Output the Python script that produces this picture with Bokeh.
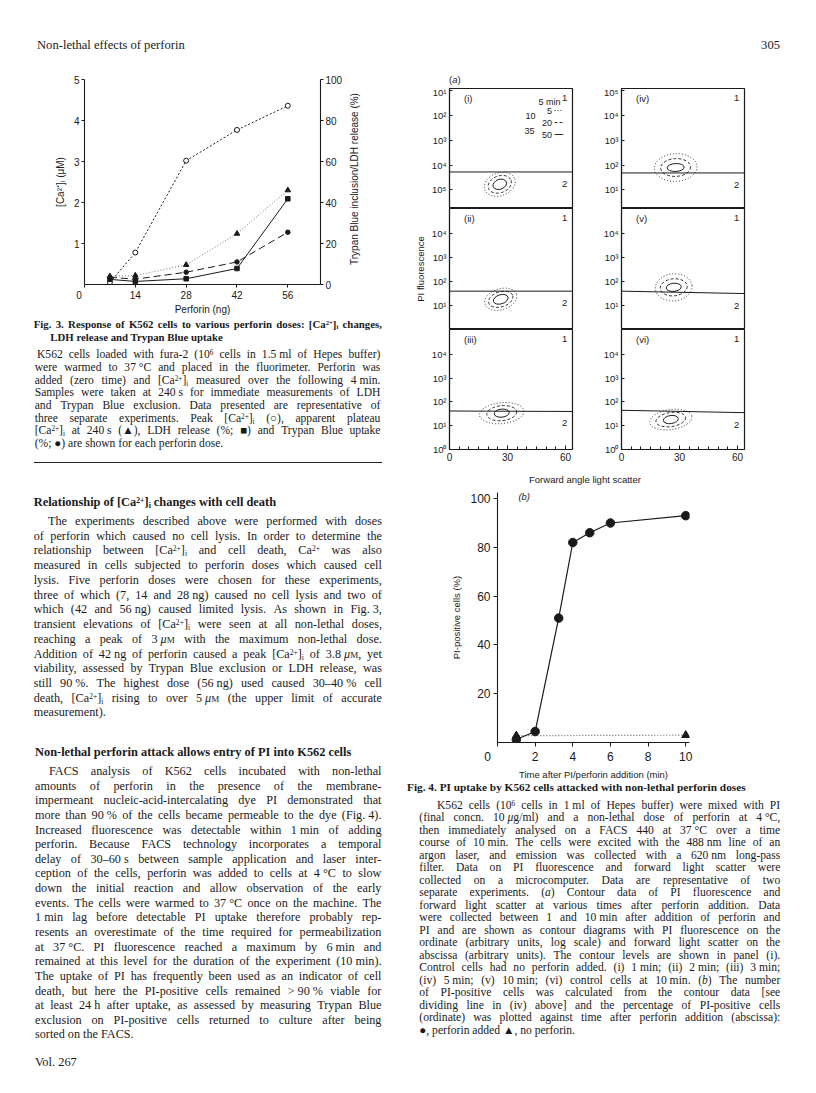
import math
from bokeh.plotting import figure
from bokeh.models import Range1d, LinearAxis, FixedTicker, Label, Div
from bokeh.layouts import row, column
from bokeh.embed import file_html
from bokeh.resources import INLINE

# ---------------- data: Fig. 3 ----------------
dose_ng = [7, 14, 28, 42, 56]
peak_ca_uM = [0.05, 0.78, 3.02, 3.77, 4.36]
plateau_ca_uM = [0.20, 0.22, 0.48, 1.24, 2.30]
ldh_release_pct = [2.5, 1.5, 2.8, 7.8, 41.8]
trypan_uptake_pct = [3.5, 2.6, 6.0, 11.0, 25.5]
fig3_x_ticks = [0, 14, 28, 42, 56]
fig3_left_ticks = [1, 2, 3, 4, 5]
fig3_right_ticks = [0, 20, 40, 60, 80, 100]

# ---------------- data: Fig. 4(a) contour panels ----------------
panel_ids = ["(i)", "(ii)", "(iii)", "(iv)", "(v)", "(vi)"]
contour_cx = [26.0, 26.5, 27.0, 28.0, 27.0, 25.5]
contour_cy = [1.22, 1.26, 1.53, 1.90, 1.76, 1.26]
contour_angle = [0.35, 0.30, 0.10, 0.05, 0.10, 0.15]
level5_w = [16.5, 17.0, 23.0, 22.0, 19.0, 22.0]
level5_h = [0.92, 0.88, 0.88, 1.12, 1.13, 0.84]
level20_w = [12.4, 13.0, 15.5, 15.5, 14.0, 15.5]
level20_h = [0.68, 0.63, 0.63, 0.72, 0.71, 0.59]
level50_w = [7.2, 7.8, 7.8, 8.8, 7.8, 7.8]
level50_h = [0.40, 0.38, 0.34, 0.32, 0.34, 0.34]
divide_left = [1.72, 1.60, 1.62, 1.68, 1.60, 1.65]
divide_right = [1.72, 1.60, 1.60, 1.68, 1.50, 1.55]
fsc_major_ticks = [0, 30, 60]
fsc_minor_ticks = [5, 10, 15, 20, 25, 35, 40, 45, 50, 55]
panel_tick_labels = [
    {5: "10¹", 4: "10²", 3: "10³", 2: "10⁴", 1: "10⁵"},
    {4: "10⁴", 3: "10³", 2: "10²", 1: "10¹"},
    {4: "10⁴", 3: "10³", 2: "10²", 1: "10¹", 0: "10⁰"},
    {5: "10⁵", 4: "10⁴", 3: "10³", 2: "10²", 1: "10¹"},
    {4: "10⁴", 3: "10³", 2: "10²", 1: "10¹"},
    {4: "10⁴", 3: "10³", 2: "10²", 1: "10¹", 0: "10⁰"},
]
legend_levels = ["5", "20", "50"]
legend_extra = ["10", "35"]

# ---------------- data: Fig. 4(b) ----------------
time_perforin_min = [1, 2, 3.25, 4, 4.9, 6, 10]
pi_pos_perforin_pct = [1.2, 4.5, 51, 82, 86, 90, 93]
time_control_min = [1, 10]
pi_pos_control_pct = [2.8, 3.0]
fig4b_x_ticks = [0, 2, 4, 6, 8, 10]
fig4b_y_ticks = [20, 40, 60, 80, 100]

SANS = "Liberation Sans"
SERIF_CSS = "'Liberation Serif',serif"
SANS_CSS = "'Liberation Sans',sans-serif"
INK = "#1a1a1a"
DASHES = ("1 2", "3 2", "solid")


def style_axis(ax, tick_px, label_px, t_in=0, t_out=3):
    ax.axis_line_color = INK
    ax.axis_line_width = 1.1
    ax.major_tick_line_color = INK
    ax.major_tick_in = t_in
    ax.major_tick_out = t_out
    ax.minor_tick_line_color = None
    ax.major_label_text_font = SANS
    ax.major_label_text_font_size = f"{tick_px}px"
    ax.major_label_text_color = INK
    ax.major_label_standoff = 2
    ax.axis_label_text_font = SANS
    ax.axis_label_text_font_size = f"{label_px}px"
    ax.axis_label_text_font_style = "normal"
    ax.axis_label_text_color = INK


# ================= Fig. 3 =================
F3_W = 345
f3 = figure(width=F3_W, height=255, x_range=Range1d(0, 65), y_range=Range1d(0, 5),
            output_backend="svg", toolbar_location=None,
            min_border_left=84, min_border_right=F3_W - 84 - 238, min_border_top=17,
            min_border_bottom=30, outline_line_color=None)
f3.grid.visible = False
f3.extra_y_ranges = {"pct": Range1d(0, 100)}
f3.xaxis.ticker = FixedTicker(ticks=fig3_x_ticks)
f3.xaxis.major_label_overrides = {0: "0\u2007\u2007"}
f3.xaxis.axis_label = "Perforin (ng)"
style_axis(f3.xaxis[0], 10, 10)
f3.xaxis.axis_label_standoff = 0
f3.yaxis.ticker = FixedTicker(ticks=fig3_left_ticks)
f3.yaxis.axis_label = "[Ca²⁺]ᵢ (μM)"
style_axis(f3.yaxis[0], 10, 10)
f3.yaxis.axis_label_standoff = 5
ax_r = LinearAxis(y_range_name="pct", ticker=FixedTicker(ticks=fig3_right_ticks))
style_axis(ax_r, 10, 10)
f3.add_layout(ax_r, "right")

f3.line(dose_ng, peak_ca_uM, line_color=INK, line_width=1, line_dash="2 2")
f3.scatter(dose_ng, peak_ca_uM, marker="circle", size=5, fill_color="white", line_color=INK)
f3.line(dose_ng, plateau_ca_uM, line_color="#777777", line_width=1, line_dash="1 2")
f3.scatter(dose_ng, plateau_ca_uM, marker="triangle", size=5.5, fill_color=INK, line_color=INK)
f3.line(dose_ng, ldh_release_pct, y_range_name="pct", line_color=INK, line_width=1)
f3.scatter(dose_ng, ldh_release_pct, y_range_name="pct", marker="square", size=4.5,
           fill_color=INK, line_color=INK)
f3.line(dose_ng, trypan_uptake_pct, y_range_name="pct", line_color=INK, line_width=1,
        line_dash="7 4")
f3.scatter(dose_ng, trypan_uptake_pct, y_range_name="pct", marker="circle", size=4.5,
           fill_color=INK, line_color=INK)

# ================= Fig. 4(a) panels =================
X_MAX = 63.6
panels = []
for i, pid in enumerate(panel_ids):
    col = 0 if i < 3 else 1
    r = i % 3
    ml, mr = (47, 10) if col == 0 else (39, 56)
    if r == 0:
        mt, mb, fh, yr = 2, 0, 120, (0.24, 5.1)
    elif r == 1:
        mt, mb, fh, yr = 0, 0, 121, (0.0, 5.05)
    else:
        mt, mb, fh, yr = 0, 22, 120, (0.0, 5.05)
    p = figure(width=ml + 123 + mr, height=mt + fh + mb,
               x_range=Range1d(0, X_MAX), y_range=Range1d(*yr),
               output_backend="svg", toolbar_location=None,
               min_border_left=ml, min_border_right=mr, min_border_top=mt, min_border_bottom=mb,
               outline_line_color=INK, outline_line_width=1.2)
    p.grid.visible = False
    ppd = fh / (yr[1] - yr[0])  # px per decade
    ticks = sorted(panel_tick_labels[i].keys())
    p.yaxis.ticker = FixedTicker(ticks=ticks)
    p.yaxis.major_label_overrides = panel_tick_labels[i]
    style_axis(p.yaxis[0], 9.5, 9.5, t_in=3, t_out=0)
    p.yaxis.major_label_standoff = 3
    if i == 1:
        p.yaxis.axis_label = "PI fluorescence"
        p.yaxis.axis_label_standoff = 3
    if r == 2:
        p.xaxis.ticker = FixedTicker(ticks=fsc_major_ticks, minor_ticks=fsc_minor_ticks)
        style_axis(p.xaxis[0], 10, 10, t_in=4, t_out=0)
        p.xaxis.minor_tick_line_color = INK
        p.xaxis.minor_tick_in = 3
        p.xaxis.minor_tick_out = 0
        p.xaxis.major_label_standoff = 3
    else:
        p.xaxis.visible = False

    # contours: 5 (dotted), 20 (dashed), 50 (solid)
    for ws, hs, dash, lw in ((level5_w, level5_h, DASHES[0], 0.9),
                             (level20_w, level20_h, DASHES[1], 0.9),
                             (level50_w, level50_h, DASHES[2], 1.0)):
        p.ellipse(x=[contour_cx[i]], y=[contour_cy[i]], width=[ws[i]], height=[hs[i]],
                  angle=[contour_angle[i]], fill_color=None, line_color=INK,
                  line_width=lw, line_dash=dash)
    # dividing line
    p.line([0, X_MAX], [divide_left[i], divide_right[i]], line_color=INK, line_width=1)

    lab = dict(text_font=SANS, text_font_size="9.5px", text_color=INK, text_baseline="middle")
    ytop = yr[1] - 9.5 / ppd
    p.add_layout(Label(x=7.5, y=ytop, text=pid, text_align="left", **lab))
    p.add_layout(Label(x=59.5, y=ytop, text="1", text_align="center", **lab))
    p.add_layout(Label(x=59.5, y=divide_right[i] - 12 / ppd, text="2", text_align="center", **lab))

    if i == 0:
        leg = dict(text_font=SANS, text_font_size="9px", text_color=INK, text_baseline="middle")
        p.add_layout(Label(x=51.7, y=yr[1] - 13 / ppd, text="5 min", text_align="center", **leg))
        p.add_layout(Label(x=41.9, y=yr[1] - 27 / ppd, text=legend_extra[0], text_align="center", **leg))
        p.add_layout(Label(x=41.4, y=yr[1] - 42 / ppd, text=legend_extra[1], text_align="center", **leg))
        for k, (lv, dash) in enumerate(zip(legend_levels, DASHES)):
            yl = yr[1] - (22 + 12 * k) / ppd
            p.add_layout(Label(x=53.0, y=yl, text=lv, text_align="right", **leg))
            p.line([54.3, 58.8], [yl, yl], line_color=INK, line_width=0.9, line_dash=dash)
    panels.append(p)

# ================= Fig. 4(b) =================
f4b = figure(width=398, height=293, x_range=Range1d(0, 10.2), y_range=Range1d(0, 102.5),
             output_backend="svg", toolbar_location=None,
             min_border_left=95, min_border_right=111, min_border_top=3, min_border_bottom=37,
             outline_line_color=None)
f4b.grid.visible = False
f4b.xaxis.ticker = FixedTicker(ticks=fig4b_x_ticks)
f4b.xaxis.major_label_overrides = {0: "0\u2007\u2007\u2007"}
f4b.xaxis.axis_label = "Time after PI/perforin addition (min)"
style_axis(f4b.xaxis[0], 12, 9.5, t_in=0, t_out=4)
f4b.xaxis.major_label_standoff = 3
f4b.xaxis.axis_label_standoff = 2
f4b.yaxis.ticker = FixedTicker(ticks=fig4b_y_ticks)
f4b.yaxis.axis_label = "PI-positive cells (%)"
style_axis(f4b.yaxis[0], 12, 9.5, t_in=0, t_out=4)
f4b.yaxis.major_label_standoff = 3
f4b.yaxis.axis_label_standoff = 5
f4b.line(time_control_min, pi_pos_control_pct, line_color="#666666", line_width=1.2, line_dash="1 2")
f4b.scatter(time_control_min, pi_pos_control_pct, marker="triangle", size=8,
            fill_color=INK, line_color=INK)
f4b.line(time_perforin_min, pi_pos_perforin_pct, line_color=INK, line_width=1.2)
f4b.scatter(time_perforin_min, pi_pos_perforin_pct, marker="circle", size=8.5,
            fill_color=INK, line_color=INK)
f4b.add_layout(Label(x=1.42, y=100.9, text="(b)", text_font=SANS, text_font_size="9.5px",
                     text_font_style="italic", text_align="center", text_baseline="middle",
                     text_color=INK))

# ================= text (HTML) =================
SUP = '<span style="font-size:0.62em;vertical-align:0.42em;line-height:0">{}</span>'
SUB = '<span style="font-size:0.62em;vertical-align:-0.22em;line-height:0">{}</span>'
TOK = [
    ("{CA}", "[Ca" + SUP.format("2+") + "]" + SUB.format("i")),
    ("{CA2}", "Ca" + SUP.format("2+")),
    ("{uM}", '<i>μ</i><span style="font-variant:small-caps">m</span>'),
    ("{ug}", "<i>μ</i>g"),
    ("{a}", "(<i>a</i>)"),
    ("{b}", "(<i>b</i>)"),
    ("{e6}", "10" + SUP.format("6")),
    ("~", "&nbsp;"),
]


def fmt(s):
    for k, v in TOK:
        s = s.replace(k, v)
    return s


def html_line(text, x, yc, origin, size, lh, width=None, bold=False, family=SERIF_CSS):
    ox, oy = origin
    st = (f"position:absolute;left:{x - ox:.1f}px;top:{yc - oy - lh / 2:.1f}px;"
          f"font-size:{size}px;line-height:{lh}px;white-space:nowrap;font-family:{family};")
    if bold:
        st += "font-weight:bold;"
    if width is not None:
        inner = "".join(f"<span>{fmt(w)}</span>" for w in text.split(" "))
        st += f"width:{width:.1f}px;display:flex;justify-content:space-between;"
    else:
        inner = fmt(text)
    return f'<div style="{st}">{inner}</div>'


def paragraph(lines, x0, x_first, right, y0, step, origin, size, lh):
    out = []
    for k, t in enumerate(lines):
        x = x_first if k == 0 else x0
        last = k == len(lines) - 1
        out.append(html_line(t, x, y0 + k * step, origin, size, lh,
                             width=None if last else right - x))
    return out


def box(parts, w, h):
    return (f'<div style="position:relative;width:{w}px;height:{h}px;color:{INK};'
            f'font-family:{SERIF_CSS}">' + "".join(parts) + "</div>")


fig3_caption = [
    "K562 cells loaded with fura-2 ({e6} cells in 1.5~ml of Hepes buffer)",
    "were warmed to 37~°C and placed in the fluorimeter. Perforin was",
    "added (zero time) and {CA} measured over the following 4~min.",
    "Samples were taken at 240~s for immediate measurements of LDH",
    "and Trypan Blue exclusion. Data presented are representative of",
    "three separate experiments. Peak {CA} (○), apparent plateau",
    "{CA} at 240~s (▲), LDH release (%; ■) and Trypan Blue uptake",
    "(%; ●) are shown for each perforin dose.",
]
para1 = [
    "The experiments described above were performed with doses",
    "of perforin which caused no cell lysis. In order to determine the",
    "relationship between {CA} and cell death, {CA2} was also",
    "measured in cells subjected to perforin doses which caused cell",
    "lysis. Five perforin doses were chosen for these experiments,",
    "three of which (7, 14 and 28~ng) caused no cell lysis and two of",
    "which (42 and 56~ng) caused limited lysis. As shown in Fig.~3,",
    "transient elevations of {CA} were seen at all non-lethal doses,",
    "reaching a peak of 3~{uM} with the maximum non-lethal dose.",
    "Addition of 42~ng of perforin caused a peak {CA} of 3.8~{uM}, yet",
    "viability, assessed by Trypan Blue exclusion or LDH release, was",
    "still 90~%. The highest dose (56~ng) used caused 30–40~% cell",
    "death, {CA} rising to over 5~{uM} (the upper limit of accurate",
    "measurement).",
]
para2 = [
    "FACS analysis of K562 cells incubated with non-lethal",
    "amounts of perforin in the presence of the membrane-",
    "impermeant nucleic-acid-intercalating dye PI demonstrated that",
    "more than 90~% of the cells became permeable to the dye (Fig.~4).",
    "Increased fluorescence was detectable within 1~min of adding",
    "perforin. Because FACS technology incorporates a temporal",
    "delay of 30–60~s between sample application and laser inter-",
    "ception of the cells, perforin was added to cells at 4~°C to slow",
    "down the initial reaction and allow observation of the early",
    "events. The cells were warmed to 37~°C once on the machine. The",
    "1~min lag before detectable PI uptake therefore probably rep-",
    "resents an overestimate of the time required for permeabilization",
    "at 37~°C. PI fluorescence reached a maximum by 6~min and",
    "remained at this level for the duration of the experiment (10~min).",
    "The uptake of PI has frequently been used as an indicator of cell",
    "death, but here the PI-positive cells remained >~90~% viable for",
    "at least 24~h after uptake, as assessed by measuring Trypan Blue",
    "exclusion on PI-positive cells returned to culture after being",
    "sorted on the FACS.",
]
fig4_caption = [
    "K562 cells ({e6} cells in 1~ml of Hepes buffer) were mixed with PI",
    "(final concn. 10~{ug}/ml) and a non-lethal dose of perforin at 4~°C,",
    "then immediately analysed on a FACS 440 at 37~°C over a time",
    "course of 10~min. The cells were excited with the 488~nm line of an",
    "argon laser, and emission was collected with a 620~nm long-pass",
    "filter. Data on PI fluorescence and forward light scatter were",
    "collected on a microcomputer. Data are representative of two",
    "separate experiments. {a} Contour data of PI fluorescence and",
    "forward light scatter at various times after perforin addition. Data",
    "were collected between 1 and 10~min after addition of perforin and",
    "PI and are shown as contour diagrams with PI fluorescence on the",
    "ordinate (arbitrary units, log scale) and forward light scatter on the",
    "abscissa (arbitrary units). The contour levels are shown in panel (i).",
    "Control cells had no perforin added. (i) 1~min; (ii) 2~min; (iii) 3~min;",
    "(iv) 5~min; (v) 10~min; (vi) control cells at 10~min. {b} The number",
    "of PI-positive cells was calculated from the contour data [see",
    "dividing line in (iv) above] and the percentage of PI-positive cells",
    "(ordinate) was plotted against time after perforin addition (abscissa):",
    "●, perforin added ▲, no perforin.",
]

# Div A: running head (left)
oA = (8, 8)
divA = Div(text=box([html_line("Non-lethal effects of perforin", 45, 53, oA, 12.6, 14)], 402, 62),
           width=402, height=62, margin=0)

# Div R: right-hand title of Fig. 3, reading bottom-to-top
R_W = 402 - F3_W
oR = (8 + F3_W, 70)
divR = Div(text=box([f'<div style="position:absolute;left:{363 - oR[0]}px;top:{187 - oR[1]}px;'
                     f'transform:translate(-50%,-50%) rotate(-90deg);white-space:nowrap;'
                     f'font-family:{SANS_CSS};font-size:10px;line-height:12px">'
                     'Trypan Blue inclusion/LDH release (%)</div>'], R_W, 255),
           width=R_W, height=255, margin=0)

# Div D: page number and (a)
oD = (410, 8)
partsD = [
    '<div style="position:absolute;right:20px;top:38px;font-size:12.6px;line-height:14px">305</div>',
    html_line("{a}", 457, 87, oD, 9.5, 11, family=SANS_CSS),
]
divD = Div(text=box(partsD, 398, 86), width=398, height=86, margin=0)

# Div E: x-title for Fig. 4(a)
divE = Div(text=box([f'<div style="position:absolute;left:{593 - 410 - 100}px;top:2px;width:200px;'
                     f'text-align:center;font-family:{SANS_CSS};font-size:9.5px;line-height:13px">'
                     'Forward angle light scatter</div>'], 398, 18),
           width=398, height=18, margin=0)

# Div C: left column text
oC = (8, 325)
partsC = []
partsC.append(html_line("Fig. 3. Response of K562 cells to various perforin doses: {CA} changes,",
                        41.7, 332.5, oC, 10.8, 12.5, width=390 - 41.7, bold=True))
partsC.append(html_line("LDH release and Trypan Blue uptake", 58.3, 345, oC, 10.8, 12.5, bold=True))
partsC += paragraph(fig3_caption, 42.7, 45, 388.5, 363.5, 12.7, oC, 11.6, 12.5)
partsC.append(f'<div style="position:absolute;left:{41.7 - 8}px;top:{470.2 - 325}px;width:348px;'
              f'height:0;border-top:1px solid #222"></div>')
partsC.append(html_line("Relationship of {CA} changes with cell death", 41.7, 510, oC, 12.4, 14.6, bold=True))
partsC += paragraph(para1, 41.7, 56, 390, 529.3, 14.72, oC, 12.2, 14.6)
partsC.append(html_line("Non-lethal perforin attack allows entry of PI into K562 cells",
                        43, 760.7, oC, 12.4, 14.6, bold=True))
partsC += paragraph(para2, 43, 57, 389.5, 779.3, 14.63, oC, 12.2, 14.6)
partsC.append(html_line("Vol. 267", 43, 1070, oC, 12.4, 14.6))
divC = Div(text=box(partsC, 402, 760), width=402, height=760, margin=0)

# Div H: Fig. 4 caption
oH = (410, 790)
partsH = [html_line("Fig. 4. PI uptake by K562 cells attacked with non-lethal perforin doses",
                    415, 795, oH, 11.3, 13, bold=True)]
partsH += paragraph(fig4_caption, 427.3, 445, 788.3, 814, 12.5, oH, 11.6, 12.3)
divH = Div(text=box(partsH, 398, 295), width=398, height=295, margin=0)

# ================= layout =================
left_col = column(divA, row(f3, divR, spacing=0), divC, spacing=0)
panel_grid = row(column(panels[0], panels[1], panels[2], spacing=0),
                 column(panels[3], panels[4], panels[5], spacing=0), spacing=0)
right_col = column(divD, panel_grid, divE, f4b, divH, spacing=0)
page = row(left_col, right_col, spacing=0)

open("out.html", "w").write(file_html(page, INLINE, title="Non-lethal effects of perforin"))
